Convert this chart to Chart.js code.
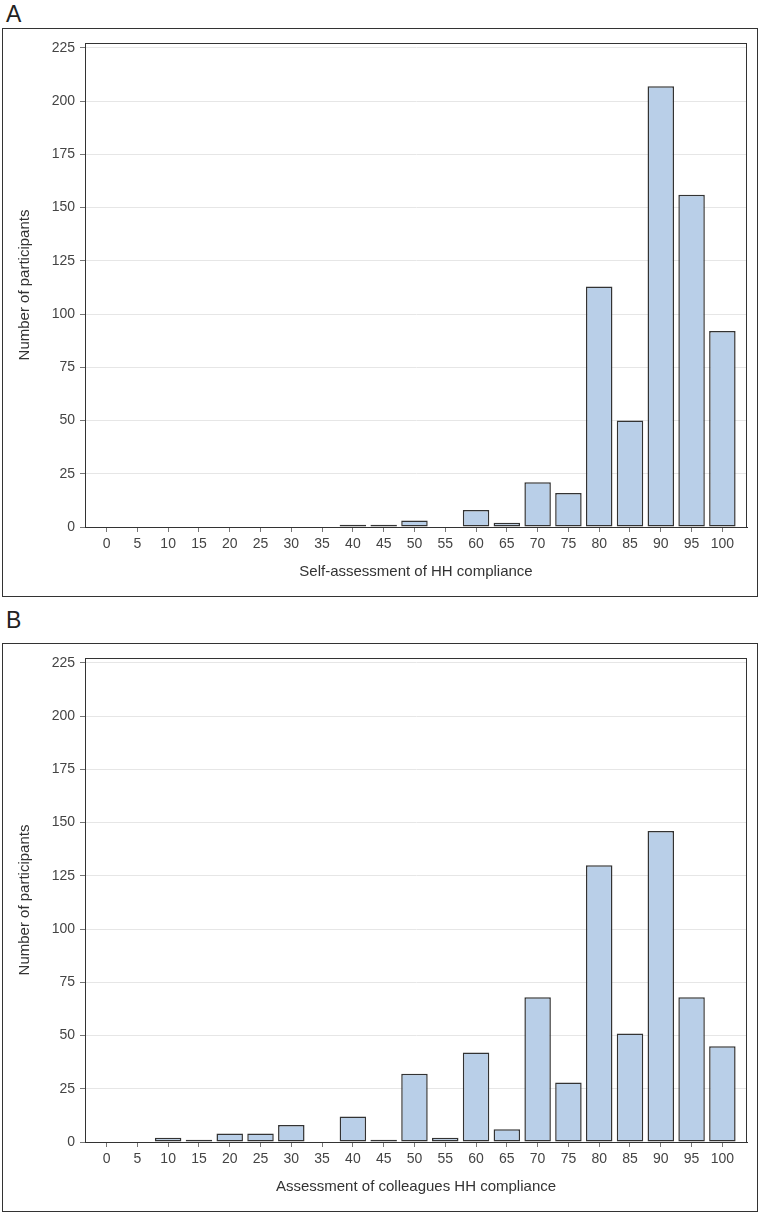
<!DOCTYPE html>
<html>
<head>
<meta charset="utf-8">
<script src="https://cdn.jsdelivr.net/npm/chart.js@4/dist/chart.umd.min.js"></script>
<style>
    body { margin: 0; background: #fff; font-family: "Liberation Sans", Arial, sans-serif; }
    .panel-label { position: absolute; left: 6px; font-size: 23px; color: #222; }
    .panel { position: absolute; left: 2px; width: 754px; height: 567px; border: 1px solid #333; }
    .panel canvas { display: block; }
</style>
</head>
<body>
<div class="panel-label" style="top: 1px;">A</div>
<div class="panel" style="top: 28px;"><canvas id="chartA" width="754" height="567"></canvas></div>
<div class="panel-label" style="top: 607px;">B</div>
<div class="panel" style="top: 643px;"><canvas id="chartB" width="754" height="567"></canvas></div>

<script>
// Data
const compliance = [0, 5, 10, 15, 20, 25, 30, 35, 40, 45, 50, 55, 60, 65, 70, 75, 80, 85, 90, 95, 100];
const selfCounts = [0, 0, 0, 0, 0, 0, 0, 0, 1, 1, 3, 0, 8, 2, 21, 16, 113, 50, 207, 156, 92];
const colleagueCounts = [0, 0, 2, 1, 4, 4, 8, 0, 12, 1, 32, 2, 42, 6, 68, 28, 130, 51, 146, 68, 45];
const yTicks = [0, 25, 50, 75, 100, 125, 150, 175, 200, 225];

// Draw the box around the plot area
const framePlugin = {
    id: 'frame',
    afterDraw(chart) {
        const { ctx, chartArea: a } = chart;
        ctx.save();
        ctx.strokeStyle = '#333';
        ctx.lineWidth = 1;
        ctx.strokeRect(a.left + 0.5, a.top + 0.5, a.right - a.left - 1, a.bottom - a.top);
        ctx.restore();
    }
};

function makeChart(id, counts, xTitle) {
    const ctx = document.getElementById(id).getContext('2d');
    return new Chart(ctx, {
        type: 'bar',
        data: {
            datasets: [{
                data: compliance.map((c, i) => ({ x: c, y: counts[i] })),
                backgroundColor: '#b9cfe8',
                borderColor: '#333',
                borderWidth: 1.5,
                borderSkipped: false,
                categoryPercentage: 1,
                barPercentage: 0.86
            }]
        },
        options: {
            responsive: false,
            animation: false,
            layout: { padding: { top: 14, right: 10, left: 0, bottom: 0 } },
            plugins: {
                legend: { display: false },
                tooltip: { enabled: false }
            },
            scales: {
                x: {
                    type: 'linear',
                    offset: false,
                    min: -3.5,
                    max: 104,
                    afterBuildTicks: scale => {
                        scale.ticks = compliance.map(v => ({ value: v }));
                    },
                    afterFit: scale => { scale.height = 69; },
                    ticks: {
                        autoSkip: false,
                        maxRotation: 0,
                        padding: 4,
                        color: '#444',
                        font: { family: 'Liberation Sans', size: 14 }
                    },
                    grid: { offset: false, drawOnChartArea: false, tickLength: 5, tickColor: '#777' },
                    border: { color: '#333' },
                    title: {
                        display: true,
                        text: xTitle,
                        color: '#333',
                        padding: { bottom: 15 },
                        font: { family: 'Liberation Sans', size: 15 }
                    }
                },
                y: {
                    min: 0,
                    max: 227.3,
                    afterBuildTicks: scale => {
                        scale.ticks = yTicks.map(v => ({ value: v }));
                    },
                    afterFit: scale => { scale.width = 82; },
                    ticks: {
                        padding: 5,
                        color: '#444',
                        font: { family: 'Liberation Sans', size: 14 }
                    },
                    grid: { color: '#e6e6e6', tickLength: 5, tickColor: '#777' },
                    border: { color: '#333' },
                    title: {
                        display: true,
                        text: 'Number of participants',
                        color: '#333',
                        padding: { top: 13 },
                        font: { family: 'Liberation Sans', size: 15 }
                    }
                }
            }
        },
        plugins: [framePlugin]
    });
}

makeChart('chartA', selfCounts, 'Self-assessment of HH compliance');
makeChart('chartB', colleagueCounts, 'Assessment of colleagues HH compliance');
</script>
</body>
</html>
